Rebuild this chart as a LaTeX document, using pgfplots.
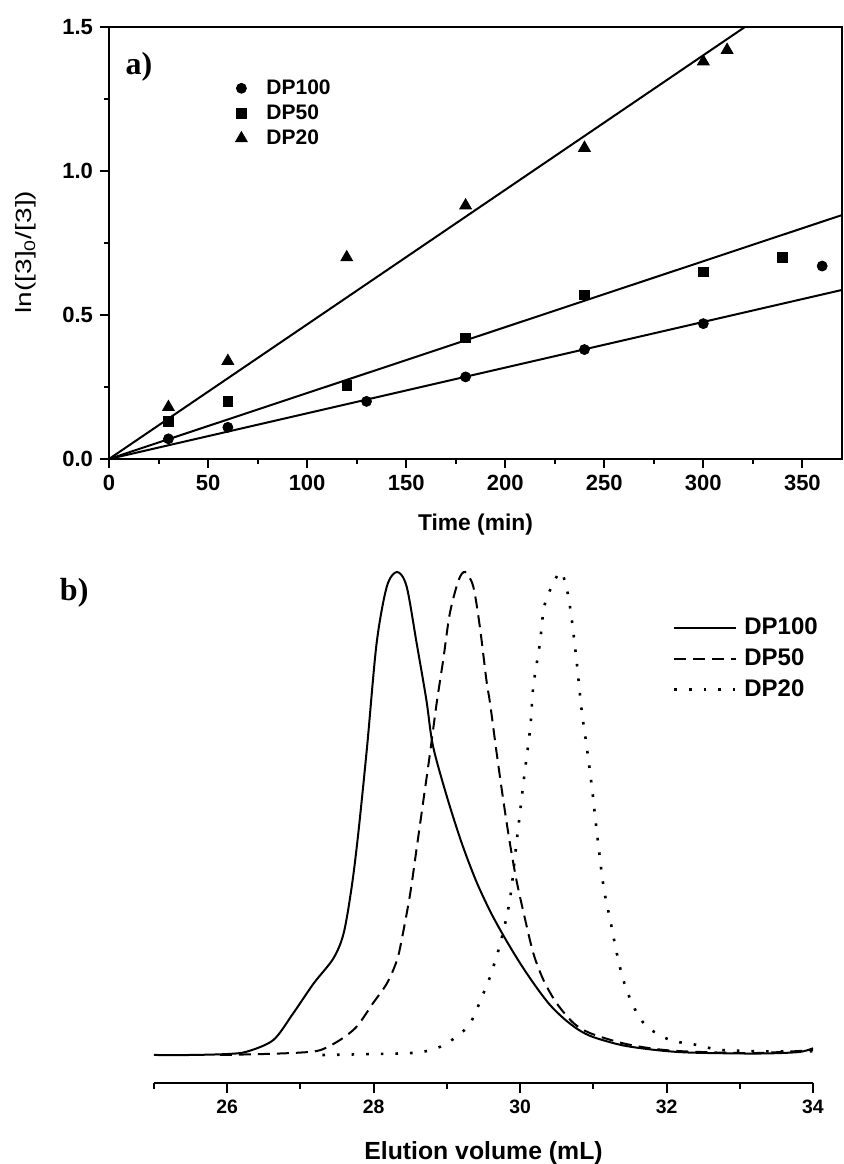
\documentclass[border=0pt]{standalone}
\usepackage{fontspec}
\setmainfont{Liberation Sans}
\newfontfamily\timesfont{Liberation Serif}
\usepackage{graphicx}
\usepackage{pgfplots}
\pgfplotsset{compat=1.18}
\begin{document}
\begin{tikzpicture}
\path[use as bounding box] (0,0) rectangle (421.5pt,582pt);
% ---------------- panel a ----------------
\begin{axis}[
  at={(54.5pt,352.5pt)}, anchor=south west, scale only axis,
  width=366.5pt, height=216pt,
  xmin=0, xmax=370, ymin=0, ymax=1.5,
  xtick={0,50,...,350}, minor xtick={25,75,...,325},
  ytick={0,0.5,1,1.5}, minor ytick={0.25,0.75,1.25},
  xtick pos=left, ytick pos=left,
  tick align=outside,
  major tick length=4.5pt, minor tick length=2.5pt,
  tick style={line width=1pt, black},
  axis line style={line width=1.2pt},
  /pgf/number format/assume math mode=true,
  ticklabel style={font=\bfseries\fontsize{11}{13}\selectfont},
  yticklabel style={/pgf/number format/.cd, fixed, fixed zerofill, precision=1},
  xlabel={Time (min)},
  xlabel style={font=\bfseries\fontsize{11.4}{13}\selectfont, at={(axis description cs:0.5,-0.152)}, anchor=center},
  ylabel={\scalebox{1.27}[1]{ln([3]\textsubscript{0}/[3])}},
  ylabel style={font=\fontsize{11}{13}\selectfont, at={(axis description cs:-0.113,0.479)}, anchor=center},
  legend style={at={(axis description cs:0.161,0.898)}, anchor=north west, draw=none, fill=none,
    font=\bfseries\fontsize{10.5}{12}\selectfont, row sep=-0.3pt},
  legend cell align=left,
  legend image code/.code={\path[draw=none] (-4pt,0pt) -- (10.5pt,0pt); \draw[#1] plot coordinates {(0pt,0pt)};},
  clip=false,
]
\addplot[only marks, mark=*, mark size=2.5pt, black] coordinates {
  (30,0.07) (60,0.11) (130,0.20) (180,0.285) (240,0.38) (300,0.47) (360,0.67)};
\addlegendentry{DP100}
\addplot[only marks, mark=square*, mark size=2.4pt, black] coordinates {
  (30,0.13) (60,0.20) (120,0.255) (180,0.42) (240,0.57) (300,0.65) (340,0.70)};
\addlegendentry{DP50}
\addplot[only marks, mark=triangle*, mark size=3.4pt, black] coordinates {
  (30,0.18) (60,0.34) (120,0.70) (180,0.88) (240,1.08) (300,1.38) (312,1.42)};
\addlegendentry{DP20}
\addplot[black, line width=1pt, forget plot] coordinates {(0,0) (321,1.5)};
\addplot[black, line width=1pt, forget plot] coordinates {(0,0) (370,0.847)};
\addplot[black, line width=1pt, forget plot] coordinates {(0,0) (370,0.587)};
\node[font=\timesfont\bfseries\fontsize{16}{18}\selectfont] at (axis description cs:0.041,0.908) {a)};
\end{axis}
% ---------------- panel b ----------------
\begin{axis}[
  at={(77pt,40.5pt)}, anchor=south west, scale only axis,
  width=329.5pt, height=279.66pt,
  xmin=25, xmax=34, ymin=-0.058, ymax=1.1,
  axis y line=none, axis x line*=bottom,
  x axis line style={-, line width=1.2pt},
  xtick={26,28,...,34}, minor xtick={25,27,...,33},
  tick align=outside,
  major tick length=5pt, minor tick length=3pt,
  tick style={line width=1pt, black},
  /pgf/number format/assume math mode=true,
  ticklabel style={font=\bfseries\fontsize{9.7}{11}\selectfont},
  xlabel={Elution volume (mL)},
  xlabel style={font=\bfseries\fontsize{12.4}{14}\selectfont, at={(axis description cs:0.5,-0.125)}, anchor=center},
  legend style={at={(axis description cs:0.778,0.846)}, anchor=north west, draw=none, fill=none,
    font=\bfseries\fontsize{12}{14}\selectfont, row sep=1.5pt},
  legend cell align=left,
  legend image code/.code={\path[draw=none] (0pt,0pt) -- (33pt,0pt); \draw[#1] (0pt,0pt) -- (31pt,0pt);},
  clip=false,
]
\addplot[black, line width=1pt, smooth] coordinates {
  (25,0) (25.5,0) (26,0.002) (26.27,0.007) (26.63,0.031) (26.90,0.086) (27.18,0.148)
  (27.45,0.200) (27.59,0.252) (27.70,0.348) (27.79,0.459) (27.91,0.638) (28.04,0.852)
  (28.18,0.970) (28.32,1.0) (28.45,0.970) (28.59,0.85) (28.72,0.735) (28.81,0.64)
  (29.0,0.535) (29.2,0.44) (29.4,0.36) (29.6,0.295) (29.8,0.24) (30.0,0.19)
  (30.2,0.145) (30.4,0.105) (30.6,0.075) (30.8,0.052) (31.0,0.037) (31.4,0.020)
  (31.87,0.010) (32.32,0.005) (33.23,0.003) (33.8,0.006) (34,0.014)};
\addlegendentry{DP100}
\addplot[black, line width=1pt, smooth, dash pattern=on 6pt off 3.5pt] coordinates {
  (25.9,0) (26.5,0.002) (27.0,0.005) (27.27,0.01) (27.54,0.031) (27.77,0.059) (27.99,0.107)
  (28.18,0.148) (28.32,0.197) (28.40,0.252) (28.50,0.335) (28.59,0.431) (28.68,0.528)
  (28.77,0.625) (28.86,0.728) (28.95,0.818) (29.04,0.914) (29.16,0.983) (29.25,1.0)
  (29.36,0.970) (29.45,0.887) (29.54,0.776) (29.59,0.728) (29.68,0.625) (29.77,0.528)
  (29.86,0.439) (29.95,0.362) (30.05,0.293) (30.18,0.211) (30.32,0.155) (30.50,0.107)
  (30.73,0.066) (30.96,0.045) (31.41,0.024) (31.87,0.012) (32.32,0.007) (33.2,0.004) (34,0.01)};
\addlegendentry{DP50}
\addplot[black, line width=1.3pt, smooth, dash pattern=on 1.3pt off 6pt] coordinates {
  (27.3,0) (28.0,0.002) (28.6,0.005) (28.91,0.017) (29.13,0.038) (29.32,0.066) (29.50,0.128)
  (29.59,0.162) (29.73,0.231) (29.86,0.321) (29.95,0.438) (30.05,0.569) (30.14,0.680)
  (30.18,0.763) (30.27,0.852) (30.32,0.921) (30.39,0.956) (30.55,1.0) (30.64,0.963)
  (30.70,0.908) (30.77,0.818) (30.84,0.714) (30.91,0.638) (30.98,0.555) (31.05,0.459)
  (31.14,0.348) (31.23,0.280) (31.32,0.211) (31.41,0.155) (31.55,0.100) (31.73,0.059)
  (32.05,0.031) (32.41,0.021) (32.78,0.01) (33.69,0.007) (34,0.008)};
\addlegendentry{DP20}
\node[font=\timesfont\bfseries\fontsize{16}{18}\selectfont] at (axis cs:23.91,0.956) {b)};
\end{axis}
\end{tikzpicture}
\end{document}
